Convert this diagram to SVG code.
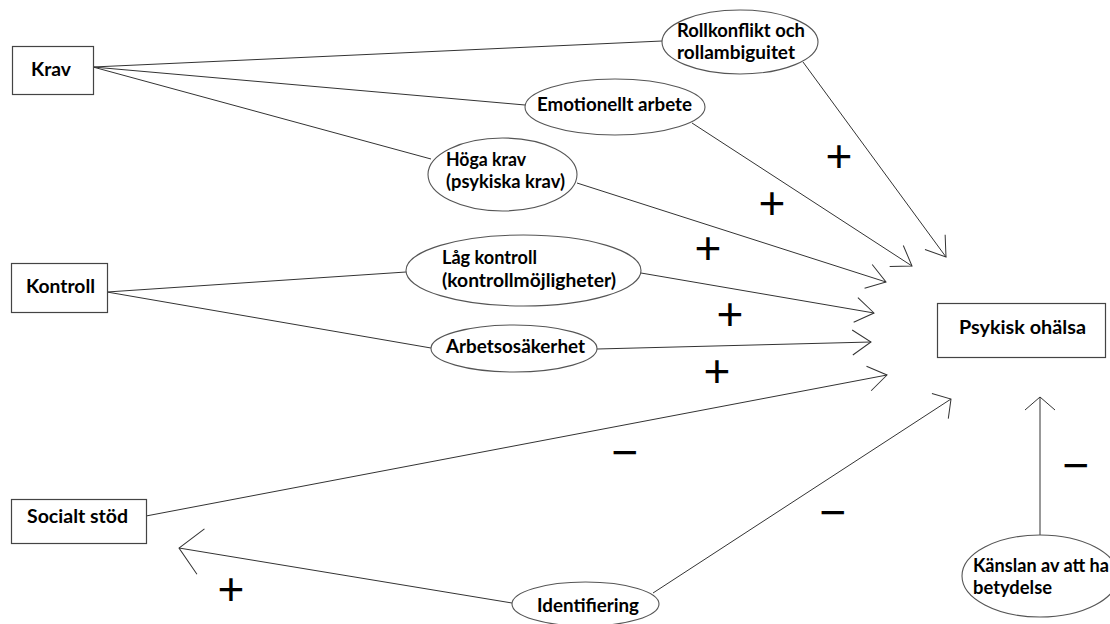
<svg xmlns="http://www.w3.org/2000/svg" width="1110" height="624" viewBox="0 0 1110 624">
<style>
.box{fill:#fff;stroke:#444;stroke-width:1.2}
.ell{fill:#fff;stroke:#555;stroke-width:1.1}
.lbl{font-family:Lato,"Liberation Sans",sans-serif;font-weight:bold;font-size:18.5px;fill:#000}
.ln{fill:none;stroke:#333;stroke-width:1}
.sg{font-family:"Liberation Sans",Arial,sans-serif;font-size:46px;fill:#000;text-anchor:middle}
.ah{fill:none;stroke:#333;stroke-width:1}
</style>
<defs>
<marker id="arr" markerUnits="userSpaceOnUse" markerWidth="60" markerHeight="60" refX="0" refY="0" orient="auto" viewBox="-30 -30 60 60" overflow="visible">
<path class="ah" d="M-18.5,-12.5 L0,0 L-18.5,12.5"/>
</marker>
<marker id="arrW" markerUnits="userSpaceOnUse" markerWidth="60" markerHeight="60" refX="0" refY="0" orient="auto" viewBox="-30 -30 60 60" overflow="visible">
<path class="ah" d="M-13,-15 L0,0 L-13,15"/>
</marker>
<marker id="arrL" markerUnits="userSpaceOnUse" markerWidth="80" markerHeight="80" refX="0" refY="0" orient="auto" viewBox="-40 -40 80 80" overflow="visible">
<path class="ah" d="M-22,-23 L0,0 L-22,23"/>
</marker>
</defs>
<rect width="1110" height="624" fill="#fff"/>
<g id="connectors">
<path class="ln" d="M93,67 L662,41"/>
<path class="ln" d="M93,67 L525,105"/>
<path class="ln" d="M93,67 L431,159"/>
<path class="ln" d="M803,62 L946,257" marker-end="url(#arr)"/>
<path class="ln" d="M692,123 L912,266" marker-end="url(#arr)"/>
<path class="ln" d="M577,183 L886,282" marker-end="url(#arr)"/>
<path class="ln" d="M107,292 L406,272"/>
<path class="ln" d="M107,292 L431,348"/>
<path class="ln" d="M641,273 L874,313" marker-end="url(#arr)"/>
<path class="ln" d="M597,349 L871,342" marker-end="url(#arr)"/>
<path class="ln" d="M146,516 L887,375" marker-end="url(#arr)"/>
<path class="ln" d="M512,603 L179,548" marker-end="url(#arrL)"/>
<path class="ln" d="M653,593 L951,399" marker-end="url(#arrW)"/>
<path class="ln" d="M1040,535 L1040,397" marker-end="url(#arrW)"/>
</g>
<g id="signs">
<text class="sg" x="839" y="172">+</text>
<text class="sg" x="772" y="219">+</text>
<text class="sg" x="708" y="264">+</text>
<text class="sg" x="730" y="330">+</text>
<text class="sg" x="717" y="387">+</text>
<text class="sg" x="231" y="605">+</text>
<text class="sg" x="625" y="468">−</text>
<text class="sg" x="833" y="528">−</text>
<text class="sg" x="1076" y="481">−</text>
</g>
<g id="krav">
<rect class="box" x="12.5" y="46.5" width="81" height="48"/>
<text class="lbl" x="31" y="76" textLength="40" lengthAdjust="spacingAndGlyphs">Krav</text>
</g>
<g id="kontroll">
<rect class="box" x="11.5" y="263.5" width="96" height="49"/>
<text class="lbl" x="26" y="293" textLength="69" lengthAdjust="spacingAndGlyphs">Kontroll</text>
</g>
<g id="socialt-stod">
<rect class="box" x="11.5" y="499.5" width="135" height="44"/>
<text class="lbl" x="27" y="523" textLength="101" lengthAdjust="spacingAndGlyphs">Socialt stöd</text>
</g>
<g id="psykisk-ohalsa">
<rect class="box" x="937.5" y="303.5" width="168" height="54"/>
<text class="lbl" x="959" y="334" textLength="127" lengthAdjust="spacingAndGlyphs">Psykisk ohälsa</text>
</g>
<g id="rollkonflikt">
<ellipse class="ell" cx="740" cy="42" rx="78" ry="32"/>
<text class="lbl" x="677" y="37" textLength="128" lengthAdjust="spacingAndGlyphs">Rollkonflikt och</text>
<text class="lbl" x="677" y="59" textLength="118" lengthAdjust="spacingAndGlyphs">rollambiguitet</text>
</g>
<g id="emotionellt">
<ellipse class="ell" cx="615" cy="107" rx="90" ry="28"/>
<text class="lbl" x="537" y="111" textLength="155" lengthAdjust="spacingAndGlyphs">Emotionellt arbete</text>
</g>
<g id="hoga-krav">
<ellipse class="ell" cx="502.5" cy="174.5" rx="74.5" ry="36.5"/>
<text class="lbl" x="446" y="166" textLength="80" lengthAdjust="spacingAndGlyphs">Höga krav</text>
<text class="lbl" x="446" y="188" textLength="119" lengthAdjust="spacingAndGlyphs">(psykiska krav)</text>
</g>
<g id="lag-kontroll">
<ellipse class="ell" cx="523.5" cy="270.5" rx="117.5" ry="35.5"/>
<text class="lbl" x="442" y="264" textLength="95" lengthAdjust="spacingAndGlyphs">Låg kontroll</text>
<text class="lbl" x="442" y="287" textLength="174" lengthAdjust="spacingAndGlyphs">(kontrollmöjligheter)</text>
</g>
<g id="arbetsosakerhet">
<ellipse class="ell" cx="514" cy="348.5" rx="83" ry="23.5"/>
<text class="lbl" x="446" y="353" textLength="139" lengthAdjust="spacingAndGlyphs">Arbetsosäkerhet</text>
</g>
<g id="identifiering">
<ellipse class="ell" cx="585.5" cy="604" rx="73.5" ry="22"/>
<text class="lbl" x="537" y="612" textLength="102" lengthAdjust="spacingAndGlyphs">Identifiering</text>
</g>
<g id="kanslan">
<ellipse class="ell" cx="1040" cy="576" rx="78" ry="41"/>
<text class="lbl" x="973" y="572" textLength="136" lengthAdjust="spacingAndGlyphs">Känslan av att ha</text>
<text class="lbl" x="973" y="594" textLength="79" lengthAdjust="spacingAndGlyphs">betydelse</text>
</g>
</svg>
